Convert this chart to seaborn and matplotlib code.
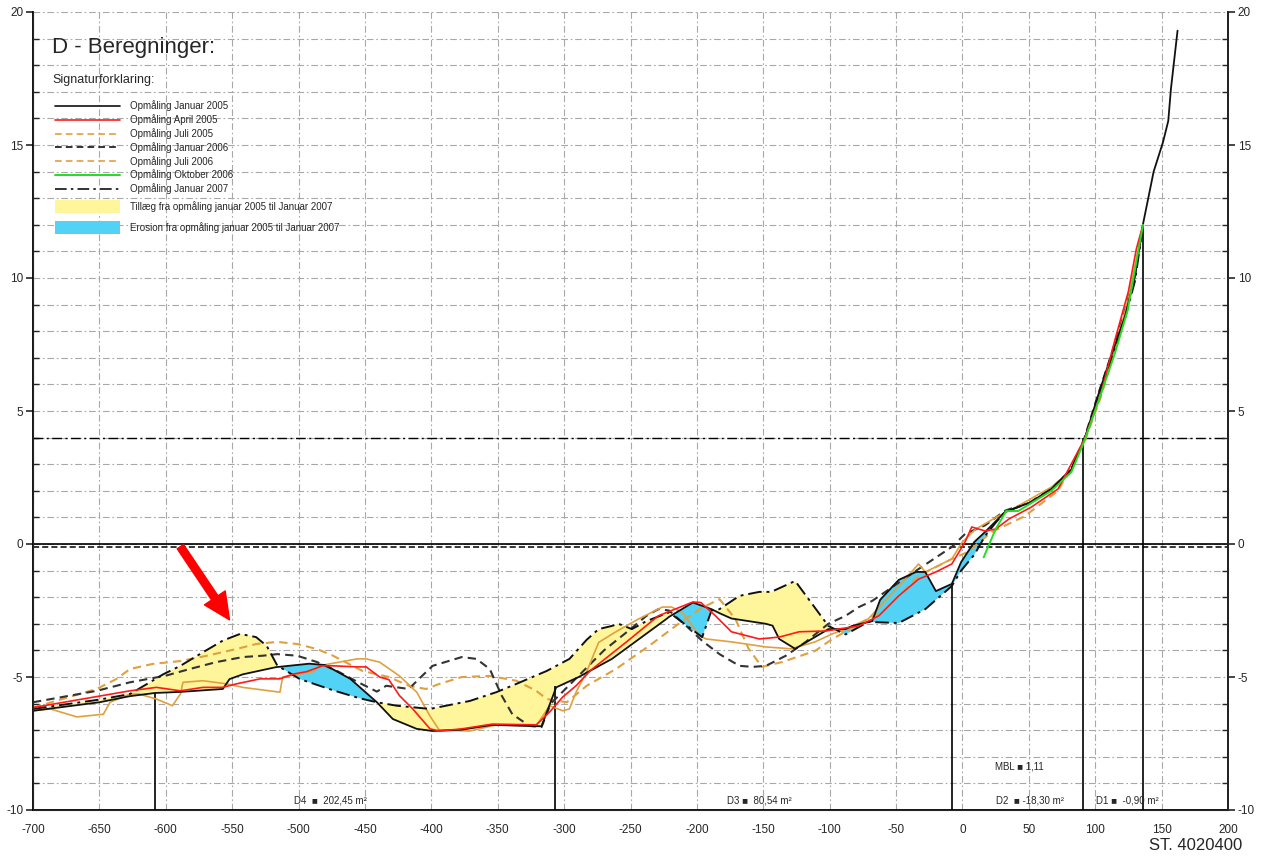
import matplotlib
matplotlib.use("Agg")
import matplotlib.pyplot as plt
from matplotlib.lines import Line2D
from matplotlib.patches import Patch
import numpy as np
import pandas as pd
import seaborn as sns

# Opmåling Januar 2005 (sort fuld linje)
jan05_x = [-700, -650, -627, -608, -589, -557, -552, -542, -517, -492, -480, -461, -441, -429, -411, -399,
           -377, -354, -321, -317, -306, -289, -264, -223, -221, -203, -189, -183, -174, -148, -143, -138,
           -126, -101, -88, -83, -68, -62, -48, -35, -28, -20, -8, -1, 9, 17, 32, 52, 67, 82, 92, 102,
           112, 122.5, 130, 136, 144, 151, 155, 157, 162]
jan05_y = [-6.27, -5.95, -5.72, -5.6, -5.56, -5.45, -5.08, -4.9, -4.63, -4.5, -4.55, -5.07, -5.95, -6.58, -6.95, -7.03,
           -6.98, -6.8, -6.85, -6.85, -5.39, -5.0, -4.32, -2.82, -2.74, -2.2, -2.45, -2.6, -2.8, -3.0, -3.07, -3.57,
           -3.94, -3.2, -3.2, -3.08, -2.9, -2.1, -1.35, -1.05, -1.05, -1.77, -1.5, -0.68, 0.08, 0.45, 1.2, 1.58, 2.07, 2.8, 3.95, 5.56,
           7.07, 8.57, 10.07, 12.03, 14.0, 15.1, 15.9, 17.1, 19.3]

# Opmåling April 2005 (rød)
apr05_x = [-700, -627, -607, -589, -572, -557, -547, -529, -514, -504, -494, -482, -474, -456, -449, -439,
           -432, -424, -414, -401, -394, -377, -354, -321, -311, -301, -291, -280, -253, -229, -203, -197,
           -186, -174, -153, -138, -123, -103, -78, -63, -48, -33, -20, -8, 2, 7, 17, 25, 35, 52, 72, 92,
           104, 115, 125, 131, 136]
apr05_y = [-6.15, -5.52, -5.39, -5.52, -5.39, -5.39, -5.26, -5.07, -5.07, -4.89, -4.8, -4.58, -4.58, -4.62, -4.62, -5.0,
           -5.1, -5.7, -6.2, -6.95, -7.03, -6.95, -6.77, -6.8, -6.32, -5.75, -5.33, -4.75, -3.68, -2.7, -2.18, -2.2,
           -2.7, -3.3, -3.57, -3.5, -3.3, -3.27, -3.08, -2.7, -1.95, -1.32, -1.05, -0.75, 0.08, 0.64, 0.49, 0.56, 0.94, 1.39, 2.07, 3.95,
           5.6, 7.7, 9.5, 11.1, 12.0]

# Opmåling Juli 2005 (orange fuld linje i profilet)
jul05_x = [-700, -687, -667, -647, -642, -627, -620, -607, -595, -589, -587, -572, -554, -542, -522, -514,
           -512, -489, -484, -477, -456, -449, -439, -424, -411, -401, -394, -371, -351, -321, -311, -301,
           -296, -291, -283, -274, -261, -244, -226, -219, -211, -198, -193, -174, -148, -129, -111, -98,
           -88, -71, -48, -33, -28, -20, -8, 0, 10, 27, 42, 67, 82, 92, 102, 115, 125, 136]
jul05_y = [-6.27, -6.2, -6.5, -6.4, -5.95, -5.64, -5.64, -5.83, -6.08, -5.64, -5.2, -5.14, -5.26, -5.39, -5.52, -5.57,
           -5.0, -4.8, -4.58, -4.51, -4.32, -4.32, -4.44, -4.96, -5.57, -6.47, -7.0, -7.03, -6.8, -6.84, -6.08, -6.27,
           -6.2, -5.57, -4.8, -3.7, -3.3, -2.82, -2.37, -2.37, -2.57, -3.45, -3.57, -3.68, -3.87, -3.94, -3.68, -3.38,
           -3.2, -2.82, -1.58, -0.75, -1.05, -0.86, -0.56, 0.08, 0.56, 1.05, 1.43, 2.14, 2.75, 3.9, 5.4, 7.4, 9.2, 12.0]

# Opmåling Januar 2006 (sort stiplet)
jan06_x = [-700, -652, -627, -600, -582, -562, -542, -527, -516, -501, -486, -470, -455, -441, -434, -417,
           -407, -399, -377, -366, -356, -347, -339, -326, -317, -310, -290, -270, -250, -238, -229, -221,
           -208, -196, -183, -168, -158, -148, -133, -118, -101, -88, -78, -68, -33, -8, 2, 17, 32, 52, 67,
           82, 92, 102, 112, 122, 130, 136]
jan06_y = [-5.95, -5.52, -5.2, -4.95, -4.7, -4.44, -4.25, -4.2, -4.14, -4.2, -4.44, -4.8, -5.2, -5.55, -5.33, -5.45,
           -4.96, -4.58, -4.25, -4.32, -4.7, -5.7, -6.4, -6.84, -6.88, -6.0, -5.0, -4.0, -3.2, -2.7, -2.45, -2.5,
           -3.08, -3.64, -4.14, -4.58, -4.62, -4.58, -4.2, -3.68, -3.0, -2.7, -2.37, -2.14, -0.94, -0.11, 0.38, 0.7, 1.25, 1.6, 2.1,
           2.8, 4.0, 5.6, 7.1, 8.7, 10.2, 12.0]

# Opmåling Juli 2006 (orange stiplet)
jul06_x = [-700, -652, -637, -627, -610, -589, -569, -547, -532, -516, -501, -486, -474, -452, -432, -417,
           -404, -394, -377, -356, -336, -321, -313, -298, -283, -261, -236, -216, -198, -183, -171, -161,
           -151, -136, -111, -98, -58, -33, -8, 4, 22, 47, 72, 92, 104, 118, 128, 136]
jul06_y = [-6.15, -5.45, -5.07, -4.7, -4.51, -4.4, -4.2, -3.95, -3.76, -3.68, -3.76, -3.95, -4.2, -4.77, -5.0, -5.33,
           -5.45, -5.26, -5.0, -4.96, -5.14, -5.52, -5.83, -5.95, -5.33, -4.7, -3.83, -3.08, -2.45, -2.07, -2.82, -3.94,
           -4.62, -4.44, -4.02, -3.57, -2.45, -1.2, -0.56, -0.3, 0.45, 1.05, 2.0, 3.85, 5.5, 7.8, 9.8, 12.0]

# Opmåling Oktober 2006 (grøn)
okt06_x = [16, 25, 33, 42, 67, 82, 92, 102, 115, 124.5, 136]
okt06_y = [-0.5, 0.56, 1.24, 1.24, 2.0, 2.7, 3.9, 5.3, 7.2, 8.8, 12.0]

# Opmåling Januar 2007 (sort streg-prik)
jan07_x = [-700, -650, -627, -612, -602, -589, -572, -557, -544, -532, -524, -516, -499, -474, -454, -441,
           -426, -401, -389, -371, -351, -336, -313, -296, -283, -274, -264, -259, -249, -238, -221, -196,
           -189, -183, -168, -153, -144, -126, -114, -101, -88, -71, -48, -28, -8, -1, 9, 17, 25, 32, 52,
           67, 82, 92, 102, 112, 122, 130, 136]
jan07_y = [-6.2, -5.85, -5.64, -5.2, -4.9, -4.58, -4.07, -3.63, -3.38, -3.5, -3.83, -4.57, -5.08, -5.5, -5.8, -5.95,
           -6.08, -6.2, -6.08, -5.9, -5.57, -5.26, -4.77, -4.32, -3.6, -3.2, -3.08, -3.0, -3.2, -2.9, -2.57, -3.5,
           -2.5, -2.45, -1.95, -1.8, -1.8, -1.39, -2.2, -3.08, -3.4, -2.93, -2.97, -2.45, -1.58, -1.0, -0.4, 0.3, 0.8, 1.2, 1.58,
           2.07, 2.8, 3.95, 5.4, 6.9, 8.4, 9.9, 12.0]

# delestationer og beregningsresultater
section_x = [-608, -307, -8, 91, 136]
section_top = [-5.6, -5.35, -1.5, 4.0, 12.0]
result_labels = ["D4  \u25a0  202,45 m\u00b2", "D3 \u25a0  80,54 m\u00b2", "D2  \u25a0 -18,30 m\u00b2", "D1 \u25a0  -0,90 m\u00b2"]
result_x = [-476, -153, 51, 124]
mbl_label = "MBL \u25a0 1,11"

legend_labels = ["Opmåling Januar 2005", "Opmåling April 2005", "Opmåling Juli 2005", "Opmåling Januar 2006",
                 "Opmåling Juli 2006", "Opmåling Oktober 2006", "Opmåling Januar 2007"]
fill_labels = ["Tillæg fra opmåling januar 2005 til Januar 2007", "Erosion fra opmåling januar 2005 til Januar 2007"]

BLACK = "#111111"
RED = "#ff1a1a"
ORANGE = "#e0a040"
GREEN = "#22dd22"
YELLOW = "#fff59a"
BLUE = "#52d2f4"
DASH = (0, (4, 2.5))
DASHDOT = (0, (7, 2.5, 1.5, 2.5))
GRIDSTYLE = (0, (6, 2.5, 1.5, 2.5))

sns.set_style("white")
plt.rcParams["font.family"] = ["Liberation Sans", "DejaVu Sans"]
plt.rcParams["axes.unicode_minus"] = False

fig = plt.figure(figsize=(12.63, 8.58), dpi=100)
ax = fig.add_axes([33 / 1263, 48 / 858, 1195 / 1263, 798 / 858])

# tilvækst / erosion mellem januar 2005 og januar 2007
grid_x = np.union1d(jan05_x, jan07_x)
grid_x = grid_x[grid_x <= 136]
a = np.interp(grid_x, jan05_x, jan05_y)
b = np.interp(grid_x, jan07_x, jan07_y)
ax.fill_between(grid_x, a, b, where=b >= a, interpolate=True, color=YELLOW, lw=0, zorder=1)
ax.fill_between(grid_x, a, b, where=b < a, interpolate=True, color=BLUE, lw=0, zorder=1)

profiles = [
    (jul06_x, jul06_y, ORANGE, DASH, 1.5),
    (jan06_x, jan06_y, "#333333", DASH, 1.5),
    (jul05_x, jul05_y, ORANGE, "-", 1.2),
    (jan07_x, jan07_y, BLACK, DASHDOT, 1.4),
    (jan05_x, jan05_y, BLACK, "-", 1.3),
    (apr05_x, apr05_y, RED, "-", 1.2),
    (okt06_x, okt06_y, GREEN, "-", 1.4),
]
for xs, ys, col, ls, lw in profiles:
    df = pd.DataFrame({"x": xs, "y": ys})
    sns.lineplot(data=df, x="x", y="y", ax=ax, color=col, linestyle=ls, linewidth=lw,
                 sort=False, estimator=None, zorder=3)

ax.axhline(0, color="black", lw=1.2, zorder=2)
ax.axhline(-0.12, color="black", lw=1.1, linestyle=(0, (4, 2)), zorder=2)
ax.axhline(4, color="black", lw=1.0, linestyle=DASHDOT, zorder=2)
ax.vlines(section_x, -10, section_top, color="black", lw=1.2, zorder=2)

ax.set_xlim(-700, 200)
ax.set_ylim(-10, 20)
ax.set_xticks(np.arange(-700, 201, 50))
ax.set_xticks(np.arange(-700, 201, 10), minor=True)
ax.set_yticks(np.arange(-10, 21, 5))
ax.set_yticks(np.arange(-10, 21, 1), minor=True)
ax.grid(which="major", axis="x", color="#a8a8a8", lw=0.8, linestyle=GRIDSTYLE)
ax.grid(which="both", axis="y", color="#a8a8a8", lw=0.8, linestyle=GRIDSTYLE)
ax.set_xlabel("")
ax.set_ylabel("")
ax.spines["top"].set_visible(False)
for s in ["left", "right", "bottom"]:
    ax.spines[s].set_color("black")
    ax.spines[s].set_linewidth(1.3)
ax.tick_params(axis="x", which="major", direction="out", length=7, width=1.2, labelsize=8.5, pad=3)
ax.tick_params(axis="x", which="minor", direction="out", length=4, width=1.0)
ax.tick_params(axis="y", which="major", direction="out", length=5, width=1.2, labelsize=8.5, pad=2)
ax.tick_params(axis="y", which="minor", direction="in", length=4, width=1.0)

ax2 = ax.twinx()
ax2.set_ylim(-10, 20)
ax2.set_yticks(np.arange(-10, 21, 5))
ax2.set_yticks(np.arange(-10, 21, 1), minor=True)
ax2.tick_params(axis="y", which="major", direction="out", length=5, width=1.2, labelsize=8.5, pad=2)
ax2.tick_params(axis="y", which="minor", direction="in", length=4, width=1.0)
ax2.spines["top"].set_visible(False)
ax2.spines["right"].set_linewidth(1.3)
ax2.grid(False)

# tekster
ax.text(0.016, 0.955, "D - Beregninger:", transform=ax.transAxes, fontsize=16, va="center", ha="left")
ax.text(0.016, 0.915, "Signaturforklaring:", transform=ax.transAxes, fontsize=9, va="center", ha="left")
for lab, xv in zip(result_labels, result_x):
    ax.text(xv, -9.65, lab, fontsize=7, ha="center", va="center")
ax.text(43, -8.35, mbl_label, fontsize=7, ha="center", va="center")
fig.text(1242 / 1263, 13 / 858, "ST. 4020400", fontsize=12, ha="right", va="center")

ax.annotate("", xy=(-552, -2.85), xytext=(-589, -0.1),
            arrowprops=dict(facecolor="red", edgecolor="red", width=5.5, headwidth=18, headlength=19))

line_handles = [
    Line2D([], [], color=BLACK, lw=1.2),
    Line2D([], [], color=RED, lw=1.2),
    Line2D([], [], color=ORANGE, lw=1.2, linestyle=DASH),
    Line2D([], [], color=BLACK, lw=1.2, linestyle=DASH),
    Line2D([], [], color=ORANGE, lw=1.2, linestyle=DASH),
    Line2D([], [], color=GREEN, lw=1.4),
    Line2D([], [], color=BLACK, lw=1.2, linestyle=DASHDOT),
]
leg1 = ax.legend(line_handles, legend_labels, loc="upper left", bbox_to_anchor=(0.0184, 0.889),
                 frameon=False, fontsize=7, handlelength=6.7, handletextpad=1.0, labelspacing=0.3,
                 borderpad=0, borderaxespad=0)
ax.add_artist(leg1)
fill_handles = [Patch(facecolor=YELLOW, edgecolor="none"), Patch(facecolor=BLUE, edgecolor="none")]
ax.legend(fill_handles, fill_labels, loc="upper left", bbox_to_anchor=(0.0184, 0.765),
          frameon=False, fontsize=7, handlelength=6.7, handleheight=1.8, handletextpad=1.0,
          labelspacing=0.75, borderpad=0, borderaxespad=0)

fig.savefig("out.png", dpi=100)
